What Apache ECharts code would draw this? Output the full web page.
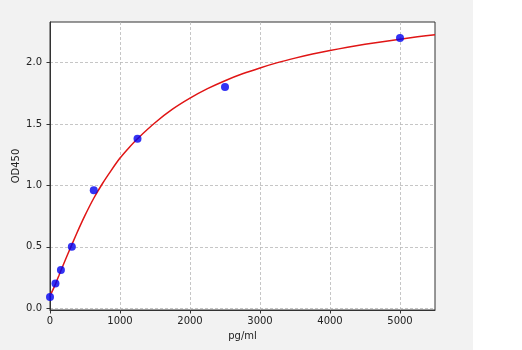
<!DOCTYPE html>
<html>
<head>
<meta charset="utf-8">
<script src="https://cdn.jsdelivr.net/npm/echarts@6/dist/echarts.min.js"></script>
<style>
html,body{margin:0;padding:0;background:#fff;}
#c{width:522px;height:350px;background:linear-gradient(to right,#f2f2f2 473px,#ffffff 473px);}
</style>
</head>
<body>
<div id="c"></div>
<script>
// Standard points
var stdX = [0, 78, 156, 312, 625, 1250, 2500, 5000];
var stdY = [0.09, 0.20, 0.31, 0.50, 0.96, 1.38, 1.80, 2.20];
// Fitted curve
var curveX = [0, 62.5, 125, 187.5, 250, 375, 500, 625, 750, 875, 1000, 1125, 1250, 1500, 1750, 2000, 2250, 2500, 2750, 3000, 3250, 3500, 3750, 4000, 4250, 4500, 4750, 5000, 5250, 5500];
var curveY = [0.10, 0.175, 0.262, 0.35, 0.435, 0.60, 0.755, 0.895, 1.015, 1.122, 1.222, 1.305, 1.38, 1.51, 1.62, 1.71, 1.787, 1.852, 1.908, 1.956, 1.999, 2.036, 2.069, 2.098, 2.124, 2.148, 2.17, 2.19, 2.209, 2.227];
// Tick labels
var xTicks = [0, 1000, 2000, 3000, 4000, 5000];
var yTicks = [0, 0.5, 1.0, 1.5, 2.0];

var font = 'DejaVu Sans';
var chart = echarts.init(document.getElementById('c'), null, {renderer: 'canvas'});
chart.setOption({
  animation: false,
  backgroundColor: 'transparent',
  grid: {left: 50, top: 22, right: 87, bottom: 40, containLabel: false, outerBoundsMode: 'none',
    show: true, backgroundColor: '#ffffff', borderColor: '#333333', borderWidth: 1},
  xAxis: {
    type: 'value', min: 0, max: 5500,
    name: 'pg/ml', nameLocation: 'middle', nameGap: 21, nameMoveOverlap: false,
    nameTextStyle: {fontFamily: font, fontSize: 10, color: '#222'},
    axisLine: {show: true, onZero: false, lineStyle: {color: '#333', width: 1}},
    axisTick: {show: true, inside: false, length: 3.5, customValues: xTicks, lineStyle: {color: '#333'}},
    axisLabel: {customValues: xTicks, margin: 6, fontFamily: font, fontSize: 10, color: '#222',
      formatter: function (v) { return String(Math.round(v)); }},
    splitLine: {show: true, lineStyle: {color: '#b8b8b8', type: [3, 2], width: 0.8}}
  },
  yAxis: {
    type: 'value', min: -0.015, max: 2.33,
    name: 'OD450', nameLocation: 'middle', nameGap: 29, nameRotate: 90, nameMoveOverlap: false,
    nameTextStyle: {fontFamily: font, fontSize: 10, color: '#222'},
    axisLine: {show: true, onZero: false, lineStyle: {color: '#333', width: 1}},
    axisTick: {show: true, inside: false, length: 3.5, customValues: yTicks, lineStyle: {color: '#333'}},
    axisLabel: {customValues: yTicks, margin: 8, fontFamily: font, fontSize: 10, color: '#222',
      formatter: function (v) { return v.toFixed(1); }},
    splitLine: {show: true, lineStyle: {color: '#b8b8b8', type: [3, 2], width: 0.8}}
  },
  series: [
    {
      type: 'line', data: curveX.map(function (x, i) { return [x, curveY[i]]; }),
      smooth: 0.2, showSymbol: false, symbol: 'none', clip: true,
      lineStyle: {color: '#e01515', width: 1.5}, z: 2
    },
    {
      type: 'scatter', data: stdX.map(function (x, i) { return [x, stdY[i]]; }),
      symbol: 'circle', symbolSize: 8, clip: true,
      itemStyle: {color: '#0000f0'}, z: 3
    }
  ]
});
</script>
</body>
</html>
